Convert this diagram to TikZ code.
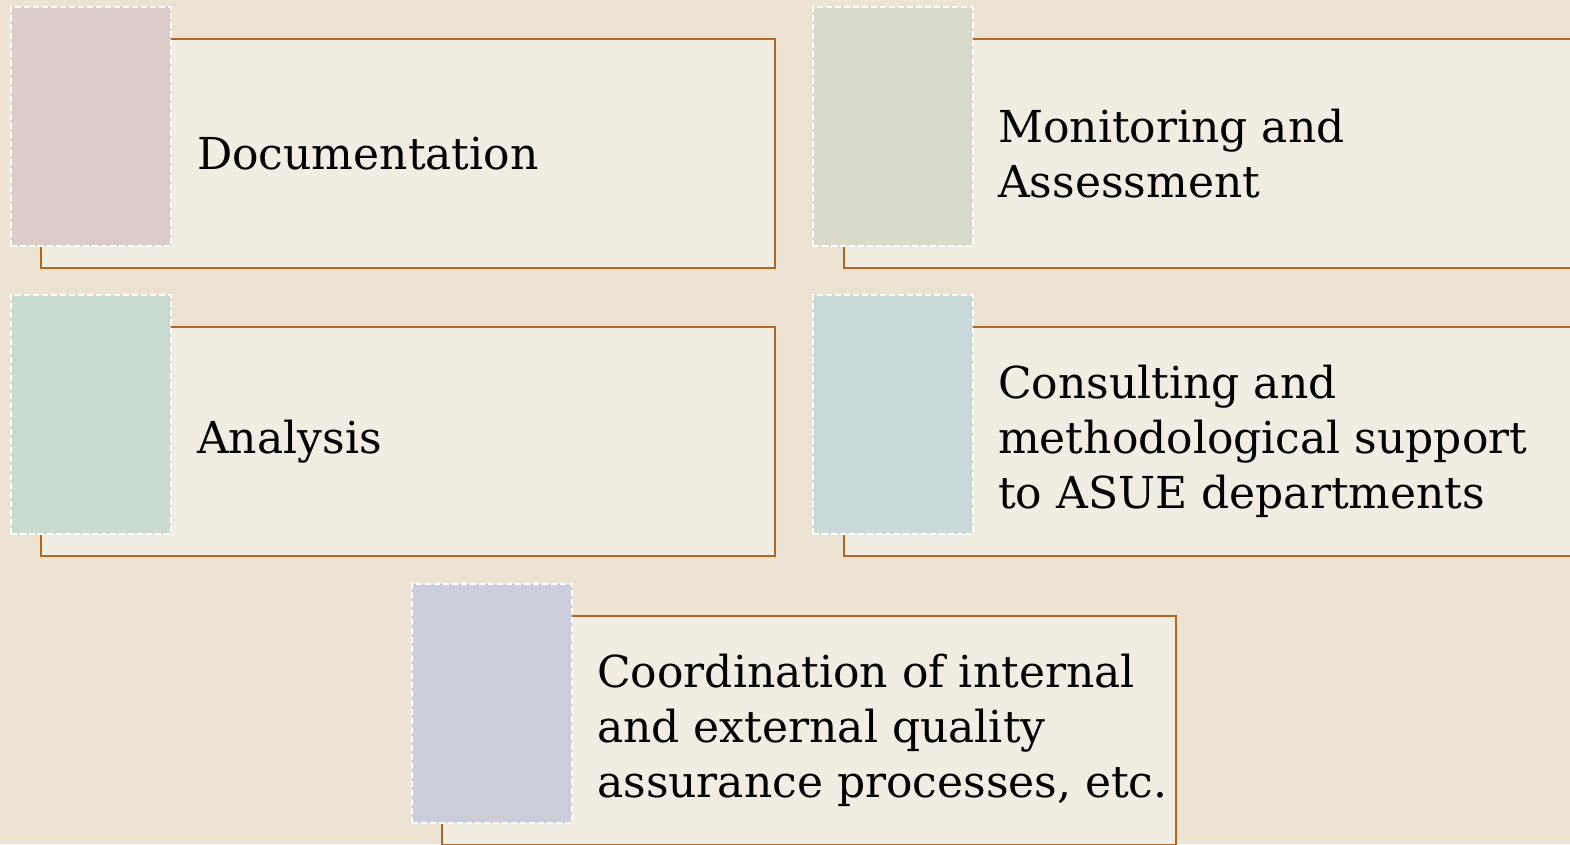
\documentclass[tikz,border=0pt]{standalone}
\usepackage{fontspec}
\setmainfont{DejaVu Serif}
\definecolor{bgc}{HTML}{EDE3D3}
\definecolor{boxfill}{HTML}{F2EDE3}
\definecolor{linec}{HTML}{B5651D}
\definecolor{cA}{HTML}{DBCCC8}
\definecolor{cB}{HTML}{D9DACB}
\definecolor{cC}{HTML}{C9DACE}
\definecolor{cD}{HTML}{C9D8D8}
\definecolor{cE}{HTML}{CBCEDA}
\tikzset{
  outl/.style={draw=linec, line width=2pt, fill=boxfill, anchor=north west, inner sep=0pt, minimum width=734pt, minimum height=229pt},
  colbox/.style={draw=white, line width=1.6pt, dash pattern=on 6pt off 3pt, anchor=north west, inner sep=0pt, minimum width=160pt, minimum height=239pt},
  lbl/.style={anchor=west, inner sep=0pt, align=left, font=\fontsize{44}{55}\selectfont}
}
\begin{document}
\begin{tikzpicture}[x=1pt,y=-1pt]
\useasboundingbox (0,0) rectangle (1570,844);
\clip (0,0) rectangle (1570,844);
\fill[bgc] (0,0) rectangle (1570,844);
% row 1
\node[outl] (o1) at (40,38) {};
\node[colbox, fill=cA] (c1) at (10,6) {};
\node[lbl] (t1) at ([xshift=157pt]o1.west) {Documentation};
\node[outl, minimum width=800pt] (o2) at (843,38) {};
\node[colbox, fill=cB] (c2) at (812,6) {};
\node[lbl] (t2) at ([xshift=155pt]o2.west) {Monitoring and\\Assessment};
% row 2
\node[outl] (o3) at (40,326) {};
\node[colbox, fill=cC] (c3) at (10,294) {};
\node[lbl] (t3) at ([xshift=157pt]o3.west) {Analysis};
\node[outl, minimum width=800pt] (o4) at (843,326) {};
\node[colbox, fill=cD] (c4) at (812,294) {};
\node[lbl] (t4) at ([xshift=155pt]o4.west) {Consulting and\\methodological support\\to ASUE departments};
% row 3
\node[outl] (o5) at (441,615) {};
\node[colbox, fill=cE] (c5) at (411,583) {};
\node[lbl] (t5) at ([xshift=156pt]o5.west) {Coordination of internal\\and external quality\\assurance processes, etc.};
\end{tikzpicture}
\end{document}
